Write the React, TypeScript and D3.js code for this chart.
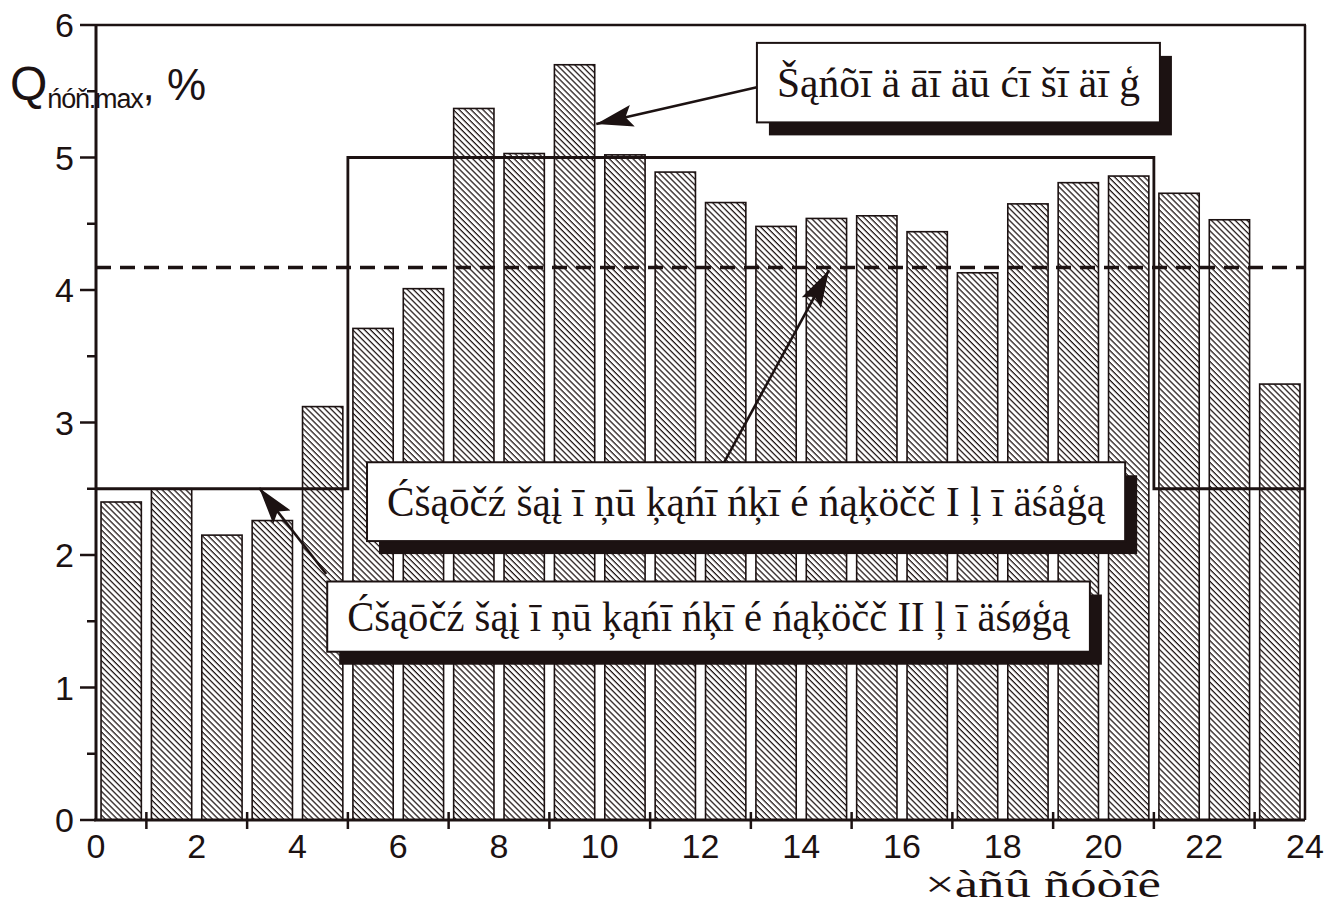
import React from 'react';
import * as d3 from 'd3';

// ---- data ----
const hours: string[] = ['0','1','2','3','4','5','6','7','8','9','10','11','12','13','14','15','16','17','18','19','20','21','22','23'];
const qValues: number[] = [2.40, 2.50, 2.15, 2.26, 3.12, 3.71, 4.01, 5.37, 5.03, 5.70, 5.02, 4.89, 4.66, 4.48, 4.54, 4.56, 4.44, 4.13, 4.65, 4.81, 4.86, 4.73, 4.53, 3.29];
const xTickLabels: number[] = [0, 2, 4, 6, 8, 10, 12, 14, 16, 18, 20, 22, 24];
const xMinorTicks: number[] = [1, 3, 5, 7, 9, 11, 13, 15, 17, 19, 21, 23];
const yTickLabels: number[] = [0, 1, 2, 3, 4, 5, 6];
const yMinorTicks: number[] = [0.5, 1.5, 2.5, 3.5, 4.5, 5.5];
const averageValue = 4.17;
const normStepX: number[] = [0, 5, 5, 21, 21, 24];
const normStepY: number[] = [2.5, 2.5, 5, 5, 2.5, 2.5];

const boxTexts: string[] = [
  'Šąńõī ä āī äū ćī šī äī ģ',
  'Ćšąōčź šąį ī ņū  ķąńī ńķī é ńąķöčč I ļ ī äśåģą',
  'Ćšąōčź šąį ī ņū  ķąńī ńķī é ńąķöčč II ļ ī äśøģą',
];
// annotation boxes in data units: [x0, x1, yTop, yBottom]
const boxX0: number[] = [13.12, 5.38, 4.59];
const boxX1: number[] = [21.12, 20.43, 19.73];
const boxYTop: number[] = [5.865, 2.70, 1.80];
const boxYBot: number[] = [5.265, 2.105, 1.27];
// arrows: tail -> tip, data units
const arrowTailX: number[] = [13.12, 12.47, 4.57];
const arrowTailY: number[] = [5.53, 2.70, 1.857];
const arrowTipX: number[] = [9.93, 14.55, 3.24];
const arrowTipY: number[] = [5.253, 4.15, 2.506];

const xTitle = '×àñû ñóòîê';

const W = 1326, H = 907;
const left = 96, right = 1305, top = 25, bottom = 820;
const ink = '#1c1212';

export default function App() {
  const x = d3.scaleLinear().domain([0, 24]).range([left, right]);
  const y = d3.scaleLinear().domain([0, 6]).range([bottom, top]);
  const band = d3.scaleBand<string>().domain(hours).range([left, right]).paddingInner(0.2).paddingOuter(0.1);

  const stepLine = d3.line<number>().x((_, i) => x(normStepX[i])).y((d) => y(d))(normStepY) || '';

  const sans = 'Arial, "Liberation Sans", Helvetica, sans-serif';
  const serif = '"Times New Roman", "Liberation Serif", serif';

  return (
    <svg width={W} height={H} style={{ position: 'absolute', left: 0, top: 0, background: '#fff' }}>
      <defs>
        <pattern id="hatch" patternUnits="userSpaceOnUse" width={4.2} height={4.2} patternTransform="rotate(45)">
          <rect width={4.2} height={4.2} fill="#fff" />
          <line x1={0} y1={0.6} x2={4.2} y2={0.6} stroke={ink} strokeWidth={1.3} />
        </pattern>
        <marker id="ah" markerUnits="userSpaceOnUse" markerWidth={38} markerHeight={24} refX={37} refY={11} orient="auto">
          <path d="M0,0 L37,11 L0,22 L7,11 Z" fill={ink} />
        </marker>
      </defs>

      {/* bars */}
      {qValues.map((v, i) => (
        <rect key={i} x={band(hours[i])} y={y(v)} width={band.bandwidth()} height={y(0) - y(v)}
          fill="url(#hatch)" stroke={ink} strokeWidth={1.6} />
      ))}

      {/* norm step line */}
      <path d={stepLine} fill="none" stroke={ink} strokeWidth={2.8} />

      {/* average dashed line */}
      <line x1={x(0)} x2={x(24)} y1={y(averageValue)} y2={y(averageValue)} stroke={ink} strokeWidth={3.4} strokeDasharray="15 9" />

      {/* frame */}
      <line x1={left} x2={left} y1={top} y2={bottom} stroke={ink} strokeWidth={3} />
      <line x1={left - 2} x2={right} y1={bottom} y2={bottom} stroke={ink} strokeWidth={3} />
      <line x1={left} x2={right + 1} y1={top} y2={top} stroke={ink} strokeWidth={2.5} />
      <line x1={right} x2={right} y1={top} y2={bottom} stroke={ink} strokeWidth={2.5} />

      {/* y ticks */}
      {yTickLabels.map((t) => (
        <g key={'yt' + t}>
          <line x1={left - 16} x2={left} y1={y(t)} y2={y(t)} stroke={ink} strokeWidth={2.5} />
          <text x={left - 22} y={y(t)} dy="0.36em" textAnchor="end" fontFamily={sans} fontSize={34} fill={ink}>{t}</text>
        </g>
      ))}
      {yMinorTicks.map((t) => (
        <line key={'ym' + t} x1={left - 9} x2={left} y1={y(t)} y2={y(t)} stroke={ink} strokeWidth={2.5} />
      ))}

      {/* x ticks */}
      {xMinorTicks.map((t) => (
        <line key={'xm' + t} x1={x(t)} x2={x(t)} y1={bottom - 8} y2={bottom + 9} stroke={ink} strokeWidth={2.5} />
      ))}
      {xTickLabels.map((t) => (
        <text key={'xt' + t} x={x(t)} y={bottom + 38} textAnchor="middle" fontFamily={sans} fontSize={34} fill={ink}>{t}</text>
      ))}

      {/* axis titles */}
      <text x={10} y={100} fontFamily={sans} fill={ink}>
        <tspan fontSize={48}>Q</tspan>
        <tspan fontSize={27} dy={8} letterSpacing={-1.2}>ńóň.max</tspan>
        <tspan fontSize={44} dy={-8}>, %</tspan>
      </text>
      <text x={925} y={897} fontFamily={serif} fontSize={38} fill={ink} textLength={236} lengthAdjust="spacingAndGlyphs">{xTitle}</text>

      {/* annotation boxes */}
      {boxTexts.map((t, i) => {
        const bx = x(boxX0[i]), bw = x(boxX1[i]) - x(boxX0[i]);
        const by = y(boxYTop[i]), bh = y(boxYBot[i]) - y(boxYTop[i]);
        return (
          <g key={'box' + i}>
            <rect x={bx + 12} y={by + 13} width={bw} height={bh} fill={ink} />
            <rect x={bx} y={by} width={bw} height={bh} fill="#fff" stroke={ink} strokeWidth={2} />
            <text x={bx + 20} y={by + bh / 2} dy="0.33em" fontFamily={serif} fontSize={43} fill={ink}
              textLength={bw - 40} lengthAdjust="spacingAndGlyphs">{t}</text>
          </g>
        );
      })}

      {/* arrows */}
      {arrowTipX.map((_, i) => (
        <line key={'ar' + i} x1={x(arrowTailX[i])} y1={y(arrowTailY[i])} x2={x(arrowTipX[i])} y2={y(arrowTipY[i])}
          stroke={ink} strokeWidth={2.6} markerEnd="url(#ah)" />
      ))}
    </svg>
  );
}
